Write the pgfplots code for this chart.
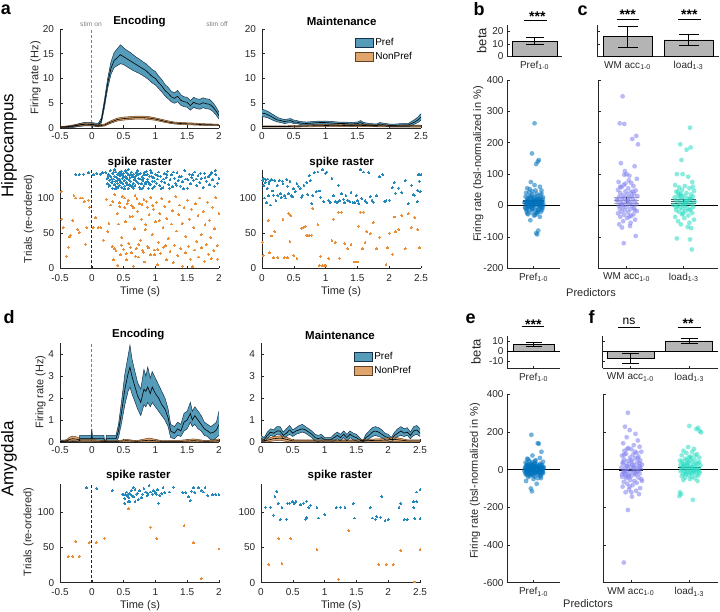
\documentclass[border=0pt]{standalone}
\usepackage{fontspec}
\setmainfont{Liberation Sans}
\usepackage{pgfplots}
\usepackage{pgfplotstable}
\pgfplotsset{compat=1.18}
\usepgfplotslibrary{fillbetween}

\definecolor{axc}{RGB}{38,38,38}
\definecolor{prefc}{RGB}{84,156,185}
\definecolor{prefe}{RGB}{25,50,75}
\definecolor{nonc}{RGB}{224,165,108}
\definecolor{nonedge}{RGB}{95,65,35}
\definecolor{rasB}{RGB}{35,135,185}
\definecolor{rasO}{RGB}{236,140,50}
\definecolor{dotB}{RGB}{0,114,189}
\definecolor{dotP}{RGB}{128,128,240}
\definecolor{dotT}{RGB}{40,220,195}
\definecolor{barc}{RGB}{180,180,180}

\pgfplotsset{
  base/.style={scale only axis, axis lines=left, axis line style={-, draw=axc, line width=0.55pt},
    tick align=inside, major tick length=2.5pt, tick style={draw=axc, line width=0.55pt},
    tick label style={font=\fontsize{10}{12}\selectfont, text=axc},
    xticklabel style={yshift=-1.2pt},
    /pgf/number format/assume math mode=true, anchor=south west},
  ras/.style={base, width=159pt, height=98.4pt, ymin=0, ymax=140, ytick={0,50,100},
    yticklabel style={xshift=-2.2pt}, xticklabel style={yshift=-1.2pt}},
  frp/.style={base, width=159pt, height=99pt, yticklabel style={xshift=-2.5pt}},
  rasO/.style={only marks, mark=*, color=rasO, mark size=0.95pt, mark options={fill=rasO, draw=rasO, line width=0pt}},
  rasB/.style={only marks, mark=*, color=rasB, mark size=0.95pt, mark options={fill=rasB, draw=rasB, line width=0pt}},
  dots/.style={only marks, mark=*, color=#1, mark size=2.4pt, mark options={fill=#1, fill opacity=0.55, draw opacity=0}},
  errb/.style={error bars/.cd, y dir=both, y explicit, error bar style={black, line width=0.6pt},
    error mark options={rotate=90, black, mark size=#1, line width=0.6pt}},
}

\newcommand{\band}[4]{%
 \addplot[draw=none, name path=#4h, forget plot] table[x=t,y=hi]{#1};
 \addplot[draw=none, name path=#4l, forget plot] table[x=t,y=lo]{#1};
 \addplot[fill=#2, draw=none, forget plot] fill between[of=#4h and #4l];
 \addplot[#3, line width=0.5pt, forget plot] table[x=t,y=hi]{#1};
 \addplot[#3, line width=0.5pt, forget plot] table[x=t,y=lo]{#1};
 \addplot[black, line width=0.6pt, forget plot] table[x=t,y=m]{#1};
}

\pgfplotstableread{
t m lo hi
-0.50 0.10 0.00 0.25
-0.40 0.15 0.05 0.30
-0.30 0.30 0.10 0.50
-0.20 0.60 0.30 0.90
-0.10 0.80 0.45 1.15
0.00 0.75 0.40 1.10
0.05 0.65 0.35 1.00
0.10 0.55 0.25 0.90
0.15 1.50 1.00 2.00
0.20 5.00 4.20 5.80
0.25 9.00 8.00 10.0
0.30 12.0 10.8 13.3
0.35 13.6 12.2 15.2
0.40 14.2 12.6 16.0
0.45 14.8 13.0 16.8
0.50 14.4 12.8 16.2
0.55 14.0 12.4 15.7
0.60 13.6 12.0 15.3
0.65 13.2 11.6 14.8
0.70 12.8 11.3 14.3
0.75 12.4 11.0 13.9
0.80 12.0 10.6 13.4
0.85 11.6 10.2 13.0
0.90 11.0 9.7 12.4
0.95 10.4 9.1 11.8
1.00 10.0 8.7 11.4
1.05 9.2 8.0 10.5
1.10 8.5 7.3 9.8
1.15 7.6 6.5 8.8
1.20 7.0 5.9 8.2
1.25 6.3 5.3 7.4
1.30 6.0 5.0 7.1
1.35 6.4 5.3 7.6
1.40 5.6 4.6 6.7
1.45 5.3 4.3 6.3
1.50 5.2 4.2 6.2
1.55 4.5 3.6 5.5
1.60 5.2 4.2 6.2
1.65 4.9 3.9 5.9
1.70 4.8 3.8 5.8
1.75 5.1 4.1 6.1
1.80 4.9 3.9 5.9
1.85 4.8 3.8 5.8
1.90 4.3 3.4 5.2
1.95 3.5 2.7 4.3
2.00 2.5 1.8 3.2
}\aEncPref

\pgfplotstableread{
t m lo hi
-0.50 0.20 0.10 0.30
-0.40 0.25 0.15 0.40
-0.30 0.40 0.25 0.60
-0.20 0.60 0.40 0.80
-0.10 0.80 0.55 1.05
0.00 0.70 0.50 0.95
0.10 0.40 0.25 0.60
0.20 0.60 0.40 0.80
0.30 1.20 0.95 1.45
0.40 1.70 1.40 2.00
0.50 1.90 1.60 2.20
0.60 2.00 1.70 2.30
0.70 2.10 1.80 2.40
0.80 2.10 1.80 2.40
0.90 2.00 1.70 2.30
1.00 1.80 1.55 2.05
1.10 1.50 1.25 1.75
1.20 1.20 1.00 1.45
1.30 1.00 0.80 1.20
1.40 0.90 0.70 1.10
1.50 0.85 0.65 1.05
1.60 0.80 0.60 1.00
1.70 0.70 0.55 0.90
1.80 0.65 0.50 0.85
1.90 0.65 0.50 0.80
2.00 0.60 0.45 0.75
}\aEncNon

\pgfplotstableread{
t m lo hi
0.00 3.0 2.3 3.8
0.05 2.9 2.2 3.6
0.10 2.6 2.0 3.3
0.15 2.3 1.7 2.9
0.20 1.9 1.4 2.5
0.25 1.6 1.2 2.1
0.30 1.5 1.1 1.9
0.35 1.3 0.9 1.7
0.40 1.4 1.0 1.8
0.45 1.5 1.1 1.9
0.50 1.2 0.9 1.6
0.55 1.2 0.9 1.5
0.60 1.0 0.7 1.3
0.70 0.9 0.6 1.2
0.80 1.0 0.7 1.3
0.90 1.1 0.8 1.4
1.00 1.1 0.8 1.4
1.10 1.0 0.7 1.3
1.20 0.9 0.6 1.2
1.30 0.9 0.6 1.2
1.40 0.8 0.5 1.1
1.50 0.9 0.6 1.2
1.55 1.1 0.8 1.5
1.60 0.8 0.5 1.1
1.70 0.6 0.4 0.9
1.80 0.5 0.3 0.8
1.85 0.8 0.5 1.1
1.90 0.7 0.4 1.0
2.00 0.5 0.3 0.8
2.10 0.5 0.3 0.8
2.20 0.6 0.3 0.9
2.30 0.6 0.3 0.9
2.35 0.9 0.5 1.3
2.40 1.2 0.8 1.7
2.45 1.6 1.1 2.2
2.50 2.2 1.6 2.9
}\aMaintPref

\pgfplotstableread{
t m lo hi
0.00 0.30 0.15 0.45
0.20 0.30 0.15 0.45
0.40 0.30 0.15 0.45
0.60 0.35 0.20 0.50
0.80 0.45 0.25 0.65
1.00 0.50 0.30 0.75
1.20 0.55 0.30 0.80
1.40 0.45 0.25 0.65
1.60 0.50 0.30 0.75
1.80 0.45 0.25 0.65
2.00 0.40 0.20 0.60
2.20 0.40 0.20 0.60
2.40 0.40 0.20 0.60
2.50 0.40 0.20 0.60
}\aMaintNon

\pgfplotstableread{
t m lo hi
-0.50 0.03 0.00 0.08
-0.30 0.03 0.00 0.08
-0.20 0.03 0.00 0.08
-0.19 0.15 0.00 0.30
-0.01 0.15 0.00 0.30
0.00 0.30 0.00 0.60
0.01 0.15 0.00 0.30
0.19 0.15 0.00 0.30
0.20 0.03 0.00 0.06
0.22 0.03 0.00 0.06
0.23 0.15 0.00 0.30
0.38 0.15 0.00 0.30
0.42 0.50 0.20 0.80
0.47 1.40 0.90 1.90
0.52 2.40 1.70 3.10
0.57 3.10 2.30 3.90
0.60 3.40 2.50 4.40
0.63 3.00 2.20 3.80
0.67 2.60 1.90 3.30
0.72 2.10 1.50 2.70
0.77 1.80 1.20 2.40
0.82 2.40 1.70 3.30
0.85 2.30 1.60 3.00
0.88 2.50 1.80 3.40
0.92 2.20 1.60 2.90
0.95 2.50 1.80 3.20
1.00 2.20 1.60 2.90
1.05 2.00 1.40 2.60
1.10 1.70 1.20 2.30
1.15 1.50 1.00 2.00
1.20 1.10 0.70 1.50
1.24 0.50 0.20 0.80
1.30 0.40 0.15 0.70
1.35 0.60 0.30 0.90
1.40 0.50 0.25 0.80
1.45 0.90 0.50 1.30
1.50 1.00 0.60 1.40
1.55 1.30 0.90 1.80
1.58 1.00 0.70 1.40
1.62 1.20 0.80 1.60
1.67 1.00 0.60 1.40
1.72 0.80 0.50 1.20
1.77 0.60 0.30 0.90
1.82 0.50 0.25 0.80
1.87 0.40 0.10 0.70
1.92 0.45 0.10 0.80
1.96 0.55 0.20 0.90
2.00 0.80 0.30 1.40
}\dEncPref

\pgfplotstableread{
t m lo hi
-0.50 0.02 0.00 0.05
-0.40 0.05 0.00 0.10
-0.35 0.12 0.02 0.22
-0.30 0.15 0.05 0.27
-0.22 0.12 0.02 0.22
-0.18 0.05 0.00 0.10
0.00 0.05 0.00 0.12
0.20 0.03 0.00 0.06
0.40 0.03 0.00 0.06
0.55 0.06 0.00 0.12
0.70 0.03 0.00 0.06
0.90 0.08 0.00 0.18
1.10 0.03 0.00 0.06
1.40 0.03 0.00 0.08
1.60 0.06 0.00 0.14
1.80 0.03 0.00 0.06
2.00 0.06 0.00 0.14
}\dEncNon

\pgfplotstableread{
t m lo hi
0.00 0.15 0.05 0.30
0.05 0.10 0.00 0.20
0.10 0.30 0.15 0.45
0.15 0.45 0.30 0.60
0.20 0.40 0.25 0.55
0.25 0.50 0.35 0.70
0.30 0.50 0.35 0.70
0.35 0.30 0.15 0.45
0.40 0.40 0.25 0.60
0.45 0.55 0.35 0.75
0.50 0.40 0.25 0.55
0.55 0.50 0.35 0.65
0.60 0.55 0.40 0.75
0.65 0.60 0.45 0.80
0.70 0.55 0.40 0.70
0.75 0.45 0.30 0.60
0.80 0.35 0.20 0.50
0.85 0.20 0.05 0.35
0.90 0.15 0.02 0.30
0.95 0.20 0.05 0.35
1.00 0.10 0.00 0.20
1.10 0.10 0.00 0.20
1.15 0.20 0.05 0.35
1.20 0.30 0.15 0.45
1.25 0.20 0.05 0.35
1.30 0.35 0.20 0.50
1.35 0.20 0.05 0.35
1.40 0.35 0.20 0.50
1.45 0.25 0.10 0.40
1.50 0.20 0.05 0.35
1.55 0.10 0.00 0.20
1.60 0.02 0.00 0.05
1.65 0.20 0.05 0.35
1.70 0.30 0.15 0.50
1.75 0.45 0.25 0.65
1.80 0.50 0.30 0.70
1.85 0.45 0.25 0.65
1.90 0.35 0.20 0.55
1.95 0.25 0.10 0.40
2.00 0.20 0.05 0.35
2.05 0.10 0.00 0.20
2.10 0.30 0.15 0.45
2.15 0.40 0.25 0.60
2.20 0.50 0.30 0.70
2.25 0.40 0.25 0.60
2.30 0.45 0.30 0.65
2.35 0.30 0.15 0.45
2.40 0.50 0.30 0.70
2.45 0.55 0.35 0.75
2.50 0.40 0.25 0.60
}\dMaintPref

\pgfplotstableread{
t m lo hi
0.00 0.05 0.00 0.10
0.10 0.08 0.00 0.15
0.20 0.15 0.05 0.25
0.30 0.18 0.08 0.28
0.40 0.12 0.02 0.22
0.50 0.05 0.00 0.10
0.80 0.05 0.00 0.10
1.00 0.05 0.00 0.10
1.50 0.05 0.00 0.10
1.90 0.08 0.00 0.15
2.10 0.12 0.02 0.22
2.30 0.05 0.00 0.10
2.50 0.05 0.00 0.10
}\dMaintNon

\begin{document}
\begin{tikzpicture}

%================ a: Encoding FR
\begin{axis}[frp, at={(60pt,484pt)}, xmin=-0.5, xmax=2, ymin=0, ymax=20,
  xtick={-0.5,0,0.5,1,1.5,2}, ytick={0,5,10,15,20}]
\addplot[gray, dash pattern=on 3pt off 2pt, line width=0.7pt, forget plot] coordinates {(0,0) (0,20)};
\addplot[gray, dash pattern=on 3pt off 2pt, line width=0.7pt, forget plot] coordinates {(2,0) (2,20)};
\band{\aEncPref}{prefc}{prefe}{aep}
\band{\aEncNon}{nonc}{nonedge}{aen}
\end{axis}

%================ a: Maintenance FR
\begin{axis}[frp, at={(262pt,484pt)}, xmin=0, xmax=2.5, ymin=0, ymax=20,
  xtick={0,0.5,1,1.5,2,2.5}, ytick={0,5,10,15,20},
  legend style={at={(0.585,0.93)}, anchor=north west, draw=none, fill=none,
    font=\fontsize{10}{12}\selectfont, inner sep=0pt, row sep=1.5pt},
  legend cell align=left,
  legend image code/.code={\draw[#1] (0pt,-4.7pt) rectangle (17.7pt,4.7pt);}]
\band{\aMaintPref}{prefc}{prefe}{amp}
\band{\aMaintNon}{nonc}{nonedge}{amn}
\addlegendimage{fill=prefc, draw=prefe}
\addlegendentry{Pref}
\addlegendimage{fill=nonc, draw=nonedge}
\addlegendentry{NonPref}
\end{axis}

%================ a: Encoding raster
\begin{axis}[ras, at={(60pt,343.7pt)}, xmin=-0.5, xmax=2, xtick={-0.5,0,0.5,1,1.5,2}]
\addplot[axc, dash pattern=on 3pt off 2pt, line width=0.7pt, forget plot] coordinates {(0,0) (0,140)};
\addplot[axc, dash pattern=on 3pt off 2pt, line width=0.7pt, forget plot] coordinates {(2,0) (2,140)};
\addplot[rasO] coordinates {
(-0.48,109) (-0.47,70) (-0.45,58) (-0.4,17) (-0.37,30) (-0.35,45) (-0.34,47) (-0.3,68) (-0.28,103) (-0.25,100) (-0.22,55) (-0.2,51) (-0.18,100) (-0.15,100) (-0.12,95) (-0.1,34) (-0.08,58) (-0.05,97) (-0.03,87) (0.02,58) (0.06,72) (0.1,58) (0.14,58) (0.18,40)
(0.23,98) (0.25,52) (0.27,64) (0.3,90) (0.32,31) (0.34,12) (0.36,105) (0.38,25) (0.4,78) (0.41,4) (0.43,93) (0.45,19) (0.47,44) (0.48,102) (0.5,27) (0.52,86) (0.53,66) (0.55,12) (0.57,97) (0.58,35) (0.6,74) (0.62,22) (0.63,89) (0.65,3) (0.67,56) (0.68,103) (0.7,28) (0.72,81) (0.73,16) (0.75,92) (0.77,40) (0.78,70) (0.8,25) (0.82,98) (0.83,9) (0.85,62) (0.87,87) (0.88,31) (0.9,76) (0.92,19) (0.93,101) (0.95,48) (0.97,84) (0.98,26) (1.0,66) (1.02,94) (1.03,5) (1.05,37) (1.07,78) (1.08,21) (1.1,99) (1.12,58) (1.13,30) (1.15,88) (1.17,12) (1.18,71) (1.2,42) (1.22,95) (1.23,24) (1.25,63) (1.27,82) (1.28,8) (1.3,33) (1.32,102) (1.33,53) (1.35,18) (1.37,76) (1.38,90) (1.4,28) (1.42,64) (1.43,3) (1.45,86) (1.47,22) (1.48,45) (1.5,97) (1.52,31) (1.53,70) (1.55,13) (1.57,84) (1.58,2) (1.6,58) (1.62,26) (1.63,92) (1.65,38) (1.67,75) (1.68,16) (1.7,100) (1.72,48) (1.73,29) (1.75,81) (1.77,10) (1.78,62) (1.8,34) (1.82,94) (1.83,20) (1.85,68) (1.87,44) (1.88,14) (1.9,87) (1.92,25) (1.93,56) (1.95,101) (1.97,32) (1.98,13) (2.0,78)
(0.33,95) (0.44,88) (0.51,100) (0.56,92) (0.66,86) (0.71,99) (0.79,91) (0.86,95) (0.96,89) (0.35,28) (0.46,33) (0.54,21) (0.61,30) (0.69,17) (0.74,34) (0.81,23) (0.89,29) (0.99,19) (1.04,27) (1.16,32) (0.42,63) (0.64,74) (0.84,55) (1.06,68)};
\addplot[rasB] coordinates {
(-0.25,133) (-0.2,133) (-0.13,134) (-0.05,136) (0.03,133) (0.08,135) (0.13,134) (0.17,136)
(0.22,136) (0.24,128) (0.25,120) (0.26,133) (0.27,117) (0.28,125) (0.29,139) (0.30,130) (0.31,122) (0.32,114) (0.33,135) (0.34,127) (0.35,119) (0.36,131) (0.37,124) (0.38,137) (0.38,116) (0.39,129) (0.40,121) (0.41,134) (0.42,126) (0.43,118) (0.44,132) (0.45,123) (0.46,138) (0.47,115) (0.48,128) (0.49,120) (0.50,135) (0.51,125) (0.52,117) (0.53,131) (0.54,122) (0.55,136) (0.56,127) (0.57,114) (0.58,133) (0.59,119) (0.60,129) (0.61,124) (0.62,137) (0.63,116) (0.64,130) (0.65,121) (0.66,134) (0.67,126) (0.68,118) (0.70,132) (0.71,123) (0.72,139) (0.74,128) (0.75,115) (0.76,135) (0.78,120) (0.79,130) (0.80,125) (0.82,117) (0.83,133) (0.85,122) (0.86,138) (0.88,127) (0.89,114) (0.91,131) (0.92,119) (0.94,136) (0.95,124) (0.97,129) (0.98,116) (1.00,134) (1.02,121) (1.03,127) (1.05,137) (1.07,118) (1.08,131) (1.10,124) (1.12,115) (1.14,135) (1.15,122) (1.17,129) (1.19,138) (1.21,119) (1.23,126) (1.25,133) (1.27,116) (1.30,128) (1.32,121) (1.34,136) (1.36,125) (1.39,117) (1.41,131) (1.43,123) (1.46,139) (1.48,127) (1.50,114) (1.53,134) (1.55,120) (1.57,129) (1.60,125) (1.62,137) (1.65,118) (1.67,132) (1.70,122) (1.72,128) (1.75,115) (1.77,135) (1.80,124) (1.83,130) (1.85,119) (1.88,136) (1.90,126) (1.93,117) (1.95,133) (1.98,121) (2.00,128)
(0.255,131) (0.285,118) (0.315,127) (0.345,137) (0.375,113) (0.405,125) (0.435,136) (0.465,122) (0.495,130) (0.525,139) (0.555,119) (0.585,126) (0.615,134) (0.645,117) (0.675,129) (0.705,136) (0.735,121) (0.765,127) (0.795,114) (0.825,136) (0.875,123) (0.935,131)
(0.32,124) (0.36,140) (0.41,115) (0.44,127) (0.47,133) (0.51,113) (0.54,129) (0.57,140) (0.6,118) (0.63,132) (0.66,114) (0.69,125) (0.73,134) (0.77,113) (0.81,128) (0.84,120) (0.87,133) (0.9,121) (0.93,139) (0.96,114) (0.99,124) (1.04,132) (1.09,113) (1.13,127) (1.18,133) (1.22,114) (1.28,137) (1.33,118) (1.38,130) (1.44,113) (1.51,126) (1.58,133) (1.64,127) (1.71,135) (1.78,129) (1.86,133) (1.94,139)};
\end{axis}

%================ a: Maintenance raster
\begin{axis}[ras, at={(262pt,343.7pt)}, xmin=0, xmax=2.5, xtick={0,0.5,1,1.5,2,2.5}]
\addplot[rasO] coordinates {
(0.01,37) (0.02,18) (0.1,68) (0.12,22) (0.15,46) (0.18,15) (0.2,52) (0.25,15) (0.33,70) (0.35,15) (0.4,15) (0.42,78) (0.44,38) (0.45,75) (0.5,18) (0.55,14) (0.62,57) (0.65,58) (0.68,60) (0.7,47) (0.72,47) (0.75,47) (0.78,47) (0.8,85) (0.88,62) (0.9,4) (0.92,17) (0.95,4) (0.98,4) (1.0,4) (1.05,14) (1.1,40) (1.12,70) (1.15,37) (1.2,80) (1.22,14) (1.25,80) (1.3,35) (1.35,28) (1.4,34) (1.45,9) (1.5,9) (1.52,60) (1.55,80) (1.58,28) (1.6,80) (1.62,37) (1.65,52) (1.7,49) (1.75,65) (1.8,28) (1.85,44) (1.95,5) (1.97,29) (2.0,50) (2.05,20) (2.08,73) (2.1,52) (2.15,55) (2.2,75) (2.25,28) (2.3,78) (2.35,58) (2.4,72) (2.45,55) (2.48,29)};
\addplot[rasB] coordinates {
(0.01,125) (0.02,128) (0.03,118) (0.04,100) (0.05,122) (0.06,126) (0.07,93) (0.08,114) (0.09,127) (0.1,103) (0.11,120) (0.12,124) (0.13,90) (0.15,126) (0.16,110) (0.18,104) (0.2,125) (0.22,96) (0.24,118) (0.25,103) (0.27,125) (0.29,106) (0.3,101) (0.32,124) (0.33,120) (0.35,103) (0.37,100) (0.39,126) (0.4,117) (0.42,106) (0.44,124) (0.46,103) (0.48,102) (0.5,113) (0.52,109) (0.55,120) (0.57,117) (0.6,113) (0.62,101) (0.64,104) (0.66,118) (0.7,122) (0.72,105) (0.74,132) (0.76,125) (0.78,92) (0.8,103) (0.82,136) (0.85,109) (0.88,137) (0.9,110) (0.92,101) (0.95,140) (0.97,95) (1.0,135) (1.02,137) (1.05,96) (1.07,93) (1.1,128) (1.12,103) (1.15,95) (1.18,94) (1.2,118) (1.22,96) (1.25,106) (1.28,98) (1.3,93) (1.32,103) (1.35,97) (1.38,95) (1.4,108) (1.43,94) (1.45,93) (1.48,103) (1.5,96) (1.52,92) (1.55,140) (1.57,99) (1.6,137) (1.62,96) (1.65,93) (1.68,136) (1.7,102) (1.73,97) (1.75,94) (1.8,103) (1.85,130) (1.9,133) (1.93,95) (1.95,96) (2.0,97) (2.05,115) (2.08,122) (2.1,107) (2.15,114) (2.2,108) (2.25,125) (2.3,92) (2.35,118) (2.38,105) (2.4,104) (2.45,111) (2.46,133) (2.48,133) (2.5,133) (2.47,124) (2.49,109) (2.44,95)};
\end{axis}

%================ d: Encoding FR
\begin{axis}[frp, at={(60pt,170pt)}, xmin=-0.5, xmax=2, ymin=0, ymax=4.5,
  xtick={-0.5,0,0.5,1,1.5,2}, ytick={0,1,2,3,4}]
\addplot[gray, dash pattern=on 3pt off 2pt, line width=0.7pt, forget plot] coordinates {(0,0) (0,4.5)};
\addplot[gray, dash pattern=on 3pt off 2pt, line width=0.7pt, forget plot] coordinates {(2,0) (2,4.5)};
\band{\dEncPref}{prefc}{prefe}{dep}
\band{\dEncNon}{nonc}{nonedge}{den}
\end{axis}

%================ d: Maintenance FR
\begin{axis}[frp, at={(261pt,170pt)}, xmin=0, xmax=2.5, ymin=0, ymax=4.5,
  xtick={0,0.5,1,1.5,2,2.5}, ytick={0,1,2,3,4},
  legend style={at={(0.585,0.93)}, anchor=north west, draw=none, fill=none,
    font=\fontsize{10}{12}\selectfont, inner sep=0pt, row sep=1.5pt},
  legend cell align=left,
  legend image code/.code={\draw[#1] (0pt,-4.7pt) rectangle (17.7pt,4.7pt);}]
\band{\dMaintPref}{prefc}{prefe}{dmp}
\band{\dMaintNon}{nonc}{nonedge}{dmn}
\addlegendimage{fill=prefc, draw=prefe}
\addlegendentry{Pref}
\addlegendimage{fill=nonc, draw=nonedge}
\addlegendentry{NonPref}
\end{axis}

%================ d: Encoding raster
\begin{axis}[ras, at={(60pt,29.3pt)}, xmin=-0.5, xmax=2, xtick={-0.5,0,0.5,1,1.5,2}]
\addplot[axc, dash pattern=on 3pt off 2pt, line width=0.7pt, forget plot] coordinates {(0,0) (0,140)};
\addplot[axc, dash pattern=on 3pt off 2pt, line width=0.7pt, forget plot] coordinates {(2,0) (2,140)};
\addplot[rasO] coordinates {
(-0.37,37) (-0.3,37) (-0.25,59) (-0.2,37) (-0.04,57) (0.07,57) (0.2,63) (0.58,105) (0.92,79) (1.02,63) (1.45,81) (1.6,57) (1.72,6) (2.0,48)};
\addplot[rasB] coordinates {
(-0.08,135) (0.08,134) (0.32,131) (0.48,126) (0.5,125) (0.52,120) (0.53,126) (0.55,129) (0.55,124) (0.57,126) (0.58,121) (0.6,127) (0.6,116) (0.62,131) (0.63,124) (0.65,135) (0.66,122) (0.68,133) (0.7,126) (0.72,127) (0.73,118) (0.75,131) (0.78,121) (0.8,126) (0.82,134) (0.85,129) (0.87,124) (0.88,127) (0.9,138) (0.92,129) (0.95,126) (0.97,131) (1.0,128) (1.02,126) (1.03,132) (1.05,113) (1.07,124) (1.1,127) (1.12,135) (1.15,128) (1.22,129) (1.28,136) (1.43,128) (1.48,128) (1.52,122) (1.55,117) (1.57,130) (1.6,135) (1.62,128) (1.68,135) (1.72,131) (1.75,129) (1.78,135) (1.82,124) (1.9,125) (1.95,125) (2.0,125) (0.52,113) (0.58,115) (0.68,115)};
\end{axis}

%================ d: Maintenance raster
\begin{axis}[ras, at={(261pt,29.3pt)}, xmin=0, xmax=2.5, xtick={0,0.5,1,1.5,2,2.5}]
\addplot[rasO] coordinates {
(0.12,26) (0.28,63) (0.33,27) (0.47,63) (0.88,47) (1.22,5) (1.38,74) (1.85,26) (1.97,26) (2.08,26) (2.2,46) (2.5,47) (2.42,1)};
\addplot[rasB] coordinates {
(0.07,107) (0.15,107) (0.2,96) (0.22,122) (0.25,130) (0.27,113) (0.3,90) (0.33,107) (0.4,90) (0.42,113) (0.45,113) (0.5,115) (0.52,113) (0.55,116) (0.62,111) (0.67,113) (0.7,90) (0.72,116) (0.75,107) (0.78,110) (0.72,93) (0.88,107) (0.9,92) (1.0,97) (1.18,107) (1.25,107) (1.32,107) (1.45,113) (1.47,92) (1.72,107) (1.75,92) (1.8,90) (1.82,94) (1.88,93) (1.9,123) (1.95,88) (2.0,90) (2.17,107) (2.2,113) (2.25,90) (2.3,90) (2.4,107) (2.45,129) (2.5,132) (2.45,115) (2.4,115) (2.5,91) (2.42,91)};
\end{axis}

%================ b: beta
\begin{axis}[base, at={(507pt,555.5pt)}, width=55pt, height=31.75pt, xmin=0.5, xmax=1.5, ymin=0, ymax=25,
  ytick={0,10,20}, xtick={1}, xticklabels={Pref\textsubscript{1-0}}]
\addplot[ybar, bar width=44.7pt, fill=barc, draw=black, line width=0.5pt, errb=9pt] coordinates {(1,12.3) +- (0,2.5)};
\end{axis}

%================ b: scatter
\begin{axis}[base, at={(507pt,343.7pt)}, width=53pt, height=188.3pt, xmin=0.5, xmax=1.5, ymin=-200, ymax=400,
  ytick={-200,-100,0,100,200,300,400}, xtick={1}, xticklabels={Pref\textsubscript{1-0}}]
\addplot[dots=dotB] coordinates {
(1.02,262) (0.97,166) (1.10,145) (1.08,140) (1.05,132) (0.95,75) (1.12,60) (0.88,55) (1.04,48) (0.92,42) (1.15,38) (0.98,35) (1.07,30) (0.85,28) (1.18,26) (0.94,24) (1.01,22) (1.11,20) (0.89,19) (1.06,18) (0.96,16) (1.14,15) (0.87,14) (1.03,13) (0.91,12) (1.09,11) (0.99,10) (1.16,9) (0.86,8) (1.05,7) (0.93,6) (1.13,5) (0.97,4) (1.08,3) (0.90,2) (1.19,1) (1.00,0) (0.88,-1) (1.12,-2) (0.95,-3) (1.06,-4) (0.84,-6) (1.17,-8) (0.99,-10) (1.10,-12) (0.92,-14) (1.03,-16) (0.87,-18) (1.14,-20) (0.96,-22) (1.07,-25) (0.90,-28) (1.01,-32) (1.12,-36) (0.94,-47) (1.09,-80) (1.05,-88) (1.07,-92) (0.98,45) (1.13,33) (0.86,40) (1.02,27) (0.93,31) (1.17,21) (0.89,25) (1.06,17) (1.10,13) (0.95,9) (1.04,5) (0.91,-5) (1.15,-7) (0.97,-11) (1.08,-15) (0.85,-9) (1.01,1) (1.18,12) (0.88,6) (1.12,24) (0.99,19) (0.92,-2) (1.05,-24) (1.14,2) (0.83,10) (1.16,-14) (0.96,28) (1.03,-30) (0.90,16) (1.09,-19) (0.94,3) (1.11,8) (0.87,-12) (1.00,14) (1.06,38) (0.93,52) (1.15,48) (1.02,65) (0.88,-25) (1.08,22) (0.97,-6) (1.13,-3)};
\addplot[black, line width=0.6pt] coordinates {(0.5,0) (1.5,0)};
\addplot[gray!60!black, line width=0.6pt] coordinates {(0.8,17) (1.2,17)};
\addplot[gray!60!black, line width=0.6pt] coordinates {(0.8,12) (1.2,12)};
\addplot[gray!60!black, line width=0.6pt] coordinates {(0.8,7) (1.2,7)};
\addplot[black, line width=0.8pt] coordinates {(1,7) (1,17)};
\end{axis}

%================ c: beta
\begin{axis}[base, at={(597pt,555.5pt)}, width=122pt, height=31.75pt, xmin=0.5, xmax=2.5, ymin=0, ymax=25,
  ytick={0,10,20}, yticklabels={}, xtick={1,2}, xticklabels={WM acc\textsubscript{1-0}, load\textsubscript{1-3}}]
\addplot[ybar, bar width=49pt, fill=barc, draw=black, line width=0.5pt, errb=10pt] coordinates {(1,15.7) +- (0,8.3) (2,13.1) +- (0,4.6)};
\end{axis}

%================ c: scatter
\begin{axis}[base, at={(598pt,343.7pt)}, width=120pt, height=188.3pt, xmin=0.5, xmax=2.6, ymin=-200, ymax=400,
  ytick={-200,-100,0,100,200,300,400}, yticklabels={}, xtick={1,2}, xticklabels={WM acc\textsubscript{1-0}, load\textsubscript{1-3}}]
\addplot[dots=dotP] coordinates {
(0.93,348) (0.88,262) (0.96,260) (1.17,222) (1.10,212) (1.20,195) (0.90,135) (1.14,125) (1.00,100) (0.96,98) (1.05,95) (1.18,85) (0.86,75) (1.08,72) (0.95,65) (1.12,62) (0.91,58) (1.03,55) (0.85,50) (1.16,48) (0.98,45) (1.07,42) (0.89,40) (1.13,37) (1.01,35) (0.94,32) (1.19,30) (0.87,28) (1.05,26) (0.96,24) (1.11,22) (0.92,20) (1.02,18) (0.84,16) (1.15,14) (0.99,12) (1.08,10) (0.90,8) (1.04,6) (1.17,4) (0.95,2) (0.86,0) (1.10,-2) (1.00,-4) (0.93,-6) (1.13,-8) (0.88,-10) (1.06,-12) (0.97,-15) (1.18,-18) (0.91,-20) (1.03,-22) (0.85,-25) (1.12,-28) (0.96,-30) (1.08,-33) (0.89,-36) (1.01,-40) (1.15,-45) (0.94,-50) (0.87,-60) (1.06,-65) (0.92,-70) (1.16,-97) (0.95,-120) (1.04,80) (0.97,110) (1.09,30) (0.83,18) (1.14,-14) (0.98,70) (1.07,-55) (0.92,5) (1.02,15) (1.11,45) (0.89,60) (1.05,-35)};
\addplot[dots=dotT] coordinates {
(2.11,248) (1.94,195) (2.12,185) (2.05,178) (1.96,145) (1.88,100) (1.98,100) (2.08,92) (2.15,75) (1.85,65) (2.02,62) (1.92,58) (2.10,55) (1.97,50) (2.18,47) (1.87,44) (2.05,40) (1.95,37) (2.13,35) (1.90,32) (2.01,30) (2.16,28) (1.84,26) (2.07,24) (1.93,22) (2.11,20) (1.99,18) (1.86,16) (2.04,14) (2.19,12) (1.91,10) (2.09,8) (1.96,6) (2.14,4) (1.82,2) (2.02,0) (1.89,-2) (2.17,-4) (1.94,-6) (2.06,-8) (1.98,-10) (2.12,-12) (1.87,-15) (2.03,-18) (1.92,-20) (2.15,-24) (1.97,-28) (2.08,-32) (1.85,-36) (2.01,-40) (2.18,-45) (1.90,-50) (2.10,-55) (1.95,-60) (2.07,-68) (2.13,-72) (1.88,-105) (2.11,-108) (2.14,-140) (1.93,35) (2.05,15) (1.99,-25) (2.16,60) (1.86,-5) (2.03,8) (1.96,28) (2.10,-15) (1.90,45) (2.00,3) (2.12,22)};
\addplot[black, line width=0.6pt] coordinates {(0.5,0) (2.6,0)};
\addplot[gray!70, line width=0.6pt] coordinates {(0.78,26) (1.22,26)};
\addplot[gray!70, line width=0.6pt] coordinates {(0.78,16) (1.22,16)};
\addplot[gray!70, line width=0.6pt] coordinates {(0.78,7) (1.22,7)};
\addplot[black, line width=0.8pt] coordinates {(1,7) (1,26)};
\addplot[gray!60!black, line width=0.6pt] coordinates {(1.78,20) (2.22,20)};
\addplot[gray!60!black, line width=0.6pt] coordinates {(1.78,13) (2.22,13)};
\addplot[gray!60!black, line width=0.6pt] coordinates {(1.78,7) (2.22,7)};
\addplot[black, line width=0.8pt] coordinates {(2,7) (2,20)};
\end{axis}

%================ e: beta
\begin{axis}[base, at={(507pt,243.8pt)}, width=53pt, height=32.3pt, xmin=0.5, xmax=1.5, ymin=-17.5, ymax=15.5,
  ytick={-10,0,10}, xtick={1}, xticklabels={Pref\textsubscript{1-0}}]
\addplot[black, line width=0.6pt] coordinates {(0.5,0) (1.5,0)};
\addplot[ybar, bar width=41pt, fill=barc, draw=black, line width=0.5pt, errb=8pt] coordinates {(1,6.8) +- (0,1.7)};
\end{axis}

%================ e: scatter
\begin{axis}[base, at={(507pt,29.3pt)}, width=53pt, height=188.4pt, xmin=0.5, xmax=1.5, ymin=-600, ymax=400,
  ytick={-600,-400,-200,0,200,400}, xtick={1}, xticklabels={Pref\textsubscript{1-0}}]
\addplot[dots=dotB] coordinates {
(0.96,185) (1.08,140) (1.10,138) (1.15,95) (0.98,75) (1.12,62) (0.88,58) (1.04,50) (0.92,45) (1.18,42) (0.85,38) (1.01,35) (1.13,32) (0.94,30) (1.07,28) (0.89,26) (1.16,24) (0.99,22) (1.05,20) (0.87,19) (1.11,18) (0.95,17) (1.03,16) (1.19,15) (0.91,14) (1.08,13) (0.84,12) (1.00,11) (1.14,10) (0.93,9) (1.06,8) (0.88,7) (1.17,6) (0.97,5) (1.02,4) (1.12,3) (0.90,2) (1.09,1) (0.86,0) (1.04,-1) (0.95,-2) (1.15,-3) (0.99,-4) (1.07,-5) (0.83,-6) (1.13,-7) (0.92,-8) (1.01,-9) (1.18,-10) (0.89,-11) (1.05,-12) (0.96,-13) (1.10,-14) (0.85,-15) (1.03,-17) (0.94,-19) (1.16,-21) (0.98,-23) (1.08,-25) (0.87,-28) (1.12,-30) (0.93,-33) (1.02,-36) (0.90,-40) (1.14,-45) (1.00,-50) (0.86,-60) (1.06,-75) (0.95,-100) (0.97,-115)
(0.92,20) (1.13,25) (0.88,-18) (1.07,15) (0.98,-8) (1.17,2) (0.84,5) (1.03,30) (0.95,10) (1.11,-20) (0.90,-3) (1.05,7) (0.99,18) (1.15,-12) (0.86,22) (1.09,-6) (0.94,3) (1.01,-16) (1.19,8) (0.91,-25) (1.04,12) (0.96,28) (1.12,-2) (0.87,-9) (1.08,4) (1.00,-30) (0.93,14) (1.16,16) (0.89,11) (1.06,-14) (0.97,40) (1.14,-35) (0.85,-22) (1.02,0) (1.10,6) (0.92,-5) (1.18,-18) (0.98,23) (1.05,-10) (0.88,32) (1.13,9) (0.95,-27) (1.03,45) (0.90,55) (1.08,-45)};
\addplot[black, line width=0.6pt] coordinates {(0.5,0) (1.5,0)};
\addplot[black, line width=0.7pt] coordinates {(0.8,4) (1.2,4)};
\end{axis}

%================ f: beta
\begin{axis}[base, at={(602.7pt,243.8pt)}, width=115.3pt, height=32.3pt, xmin=0.53, xmax=2.49, ymin=-17.5, ymax=15.5,
  ytick={-10,0,10}, yticklabels={}, xtick={1,2}, xticklabels={WM acc\textsubscript{1-0}, load\textsubscript{1-3}}]
\addplot[black, line width=0.6pt] coordinates {(0.53,0) (2.49,0)};
\addplot[ybar, bar width=47pt, fill=barc, draw=black, line width=0.5pt, errb=8.5pt] coordinates {(1,-7.4) +- (0,5.5) (2,10.5) +- (0,2.5)};
\end{axis}

%================ f: scatter
\begin{axis}[base, at={(603pt,29.3pt)}, width=115pt, height=188.4pt, xmin=0.525, xmax=2.49, ymin=-600, ymax=400,
  ytick={-600,-400,-200,0,200,400}, yticklabels={}, xtick={1,2}, xticklabels={WM acc\textsubscript{1-0}, load\textsubscript{1-3}}]
\addplot[dots=dotP] coordinates {
(0.95,302) (0.90,228) (0.98,210) (1.08,190) (0.93,172) (1.12,155) (0.87,140) (1.05,130) (1.15,122) (0.96,115) (1.01,108) (0.89,100) (1.18,95) (1.10,90) (0.92,85) (1.04,80) (0.85,75) (1.13,70) (0.99,65) (1.07,60) (0.88,55) (1.16,50) (0.94,46) (1.02,42) (1.11,38) (0.86,34) (0.97,30) (1.19,27) (1.06,24) (0.91,21) (1.14,18) (1.00,15) (0.84,12) (1.09,9) (0.95,6) (1.17,3) (0.89,0) (1.03,-3) (0.93,-6) (1.12,-9) (0.87,-12) (1.05,-15) (0.98,-18) (1.15,-21) (0.90,-24) (1.08,-27) (0.96,-30) (1.01,-34) (0.85,-38) (1.13,-42) (0.92,-46) (1.18,-50) (0.99,-55) (1.06,-60) (0.88,-65) (1.10,-70) (0.94,-75) (1.03,-82) (0.86,-90) (1.16,-98) (0.97,-105) (1.09,-112) (0.91,-120) (1.14,-130) (1.02,-143) (0.95,-214) (0.88,-493)
(1.00,50) (0.93,20) (1.11,-5) (0.87,40) (1.05,10) (0.97,-40) (1.15,35) (0.90,-15) (1.07,95) (0.94,110) (1.19,-60) (0.85,-25) (1.03,25) (1.12,60) (0.98,-90) (1.08,-20) (0.89,80) (1.01,-120) (1.16,15) (0.92,-35)};
\addplot[dots=dotT] coordinates {
(2.00,232) (2.15,222) (2.18,205) (2.12,215) (2.20,198) (1.98,120) (2.08,110) (1.90,100) (2.05,95) (1.95,88) (2.13,82) (1.87,76) (2.02,70) (2.17,64) (1.93,58) (2.09,53) (1.84,48) (2.04,44) (1.99,40) (2.14,36) (1.89,32) (2.07,28) (1.96,25) (2.19,22) (1.91,19) (2.03,16) (2.11,13) (1.86,10) (2.00,8) (2.16,6) (1.94,4) (2.06,2) (1.88,0) (2.10,-2) (1.97,-4) (2.13,-6) (1.85,-8) (2.02,-10) (1.92,-12) (2.08,-14) (2.18,-16) (1.95,-18) (2.05,-20) (1.89,-23) (2.12,-26) (1.99,-29) (2.15,-32) (1.87,-35) (2.04,-38) (1.93,-42) (2.09,-46) (2.01,-50) (1.90,-55) (2.14,-60) (1.84,-120) (1.86,-130) (1.83,-140) (2.06,-160)
(1.96,50) (2.11,30) (1.90,15) (2.07,-5) (1.98,20) (2.17,40) (1.85,25) (2.03,60) (1.94,-25) (2.12,5) (1.88,45) (2.01,-15) (2.10,75) (1.97,35) (2.16,-10) (1.92,28) (2.05,12) (1.99,65)};
\addplot[black, line width=0.6pt] coordinates {(0.525,0) (2.49,0)};
\addplot[black, line width=0.8pt] coordinates {(0.8,-5) (1.2,-5)};
\addplot[black, line width=0.8pt] coordinates {(1.8,10) (2.2,10)};
\end{axis}

%================ text
\def\ax{\fontsize{11}{13}\selectfont}
\def\ti{\fontsize{11.5}{13}\selectfont\bfseries}
\def\pl{\fontsize{18}{20}\selectfont\bfseries}
\node[anchor=base, font=\pl] at (6pt,597pt) {a};
\node[anchor=base, font=\pl] at (479pt,596pt) {b};
\node[anchor=base, font=\pl] at (582.5pt,596pt) {c};
\node[anchor=base, font=\pl] at (9pt,288pt) {d};
\node[anchor=base, font=\pl] at (470.5pt,288pt) {e};
\node[anchor=base, font=\pl] at (591.5pt,288pt) {f};
\node[rotate=90, font=\fontsize{17}{19}\selectfont] at (9pt,466pt) {Hippocampus};
\node[rotate=90, font=\fontsize{17}{19}\selectfont] at (9pt,153pt) {Amygdala};

\node[font=\ti] at (139.5pt,590.3pt) {Encoding};
\node[font=\ti] at (341.7pt,590.3pt) {Maintenance};
\node[font=\ti] at (140pt,449.7pt) {spike raster};
\node[font=\ti] at (341.7pt,449.7pt) {spike raster};
\node[font=\ti] at (138.3pt,277pt) {Encoding};
\node[font=\ti] at (340pt,277pt) {Maintenance};
\node[font=\ti] at (138.3pt,136pt) {spike raster};
\node[font=\ti] at (340pt,136pt) {spike raster};

\node[font=\fontsize{6.7}{8}\selectfont, text=gray] at (91pt,588pt) {stim on};
\node[font=\fontsize{6.7}{8}\selectfont, text=gray] at (217pt,588pt) {stim off};

\node[rotate=90, font=\ax, text=axc] at (35.5pt,534pt) {Firing rate (Hz)};
\node[rotate=90, font=\ax, text=axc] at (29pt,393pt) {Trials (re-ordered)};
\node[rotate=90, font=\ax, text=axc] at (40.5pt,220pt) {Firing rate (Hz)};
\node[rotate=90, font=\ax, text=axc] at (28.5pt,80pt) {Trials (re-ordered)};
\node[font=\ax, text=axc] at (140pt,320.3pt) {Time (s)};
\node[font=\ax, text=axc] at (341pt,320.3pt) {Time (s)};
\node[font=\ax, text=axc] at (140pt,6.5pt) {Time (s)};
\node[font=\ax, text=axc] at (341pt,6.5pt) {Time (s)};

\node[rotate=90, font=\fontsize{13}{15}\selectfont, text=axc] at (481.7pt,571.2pt) {beta};
\node[rotate=90, font=\fontsize{13}{15}\selectfont, text=axc] at (476pt,260.3pt) {beta};
\node[rotate=90, font=\ax, text=axc] at (478.3pt,448pt) {Firing rate (bsl-normalized in \%)};
\node[rotate=90, font=\ax, text=axc] at (475pt,131pt) {Firing rate (bsl-normalized in \%)};
\node[font=\ax, text=axc] at (591pt,319.5pt) {Predictors};
\node[font=\ax, text=axc] at (588pt,8pt) {Predictors};

\def\st{\fontsize{14}{16}\selectfont\bfseries}
\node[anchor=base, font=\st] at (537.3pt,590.6pt) {***};
\draw[black, line width=0.6pt] (524pt,592pt) -- (547.3pt,592pt);
\node[anchor=base, font=\st] at (627.7pt,592.2pt) {***};
\draw[black, line width=0.6pt] (617pt,592.3pt) -- (639pt,592.3pt);
\node[anchor=base, font=\st] at (689.3pt,592.2pt) {***};
\draw[black, line width=0.6pt] (678pt,592.3pt) -- (701pt,592.3pt);
\node[anchor=base, font=\st] at (533.3pt,282.7pt) {***};
\draw[black, line width=0.6pt] (521.7pt,285.3pt) -- (544pt,285.3pt);
\node[anchor=base, font=\fontsize{12}{14}\selectfont] at (629pt,287pt) {ns};
\draw[black, line width=0.6pt] (618pt,285pt) -- (640pt,285pt);
\node[anchor=base, font=\st] at (688pt,283pt) {**};
\draw[black, line width=0.6pt] (677.7pt,285pt) -- (701pt,285pt);

\pgfresetboundingbox
\path[use as bounding box] (0pt,0pt) rectangle (720pt,612pt);
\end{tikzpicture}
\end{document}
